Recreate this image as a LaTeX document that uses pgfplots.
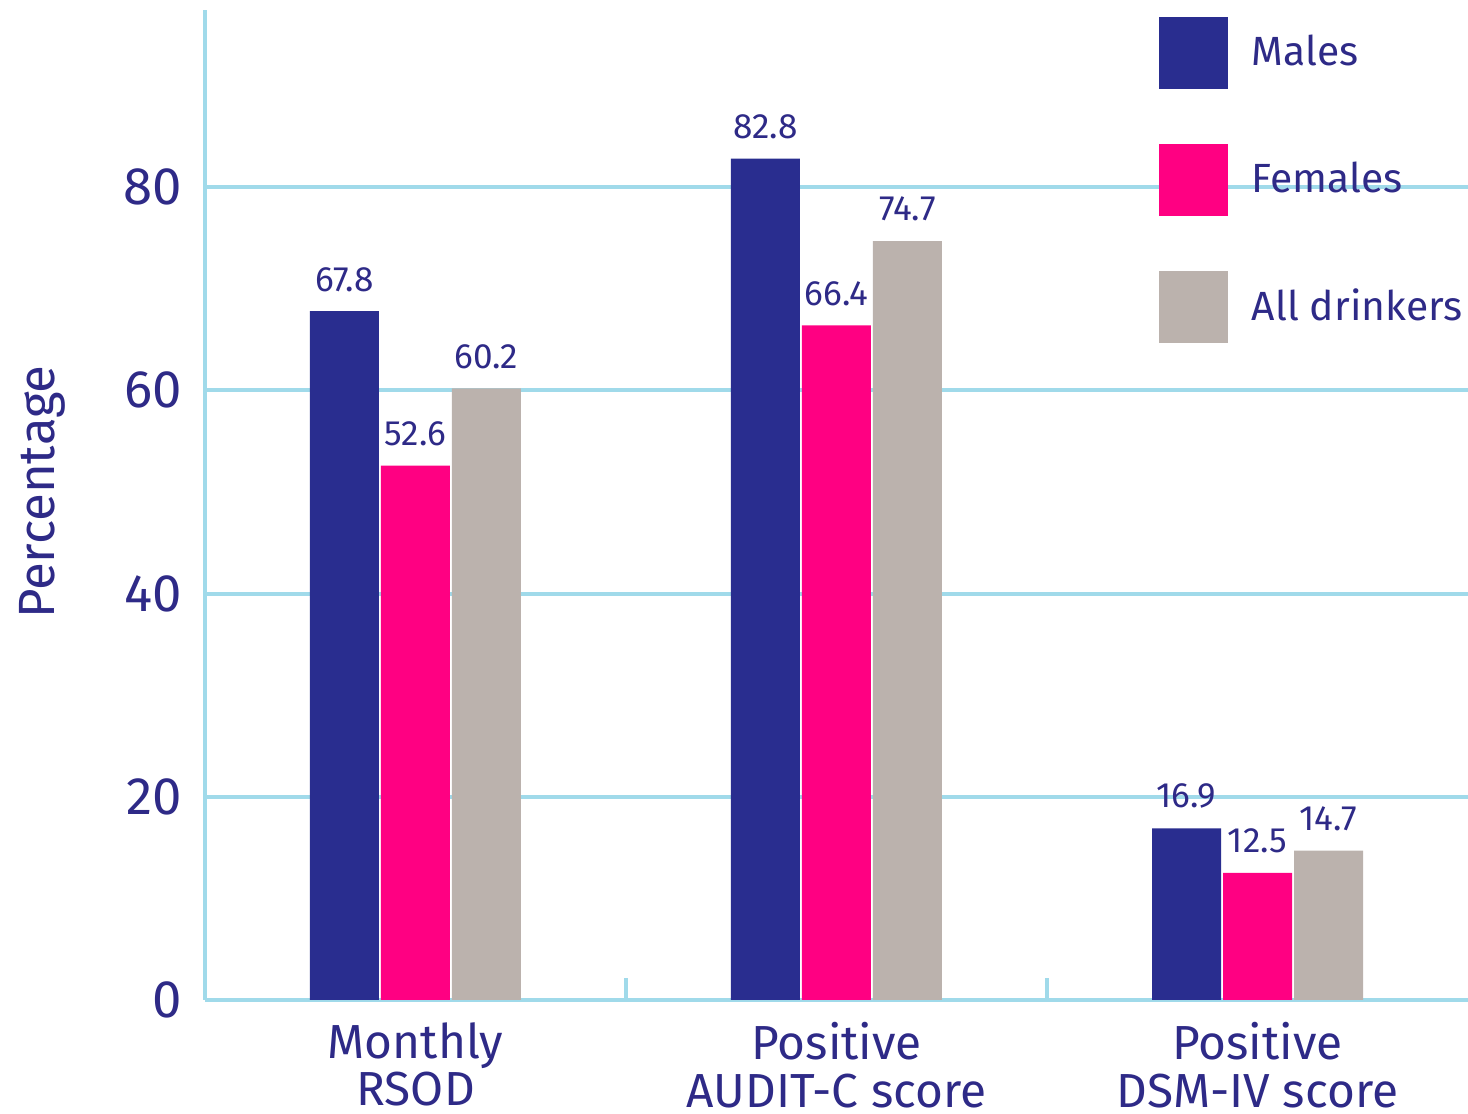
\documentclass[border=0pt]{standalone}
\usepackage{pgfplots}
\pgfplotsset{compat=1.18}
\usepackage{fontspec}
\setmainfont{Fira Sans}
\definecolor{males}{RGB}{41,45,143}
\definecolor{females}{RGB}{255,0,130}
\definecolor{alld}{RGB}{187,178,173}
\definecolor{gridc}{RGB}{160,218,234}
\definecolor{txt}{RGB}{46,42,135}
\begin{document}
\begin{tikzpicture}
\path[use as bounding box] (0,0) rectangle (146.8mm,111.4mm);
\begin{axis}[
  at={(20.5mm,11.4mm)}, anchor=south west,
  scale only axis, width=126.3mm, height=99mm,
  xmin=-0.5, xmax=2.5, ymin=0, ymax=97.44,
  axis x line*=bottom, axis y line*=left,
  axis line style={gridc, line width=0.4mm, -},
  /pgf/number format/assume math mode=true,
  ybar=0.2mm, bar width=6.9mm,
  xtick={0,1,2},
  xticklabels={{Monthly\\RSOD},{Positive\\AUDIT-C score},{Positive\\DSM-IV score}},
  xticklabel style={align=center, font=\fontsize{13.6}{13.4}\selectfont, text=txt, inner sep=0pt, yshift=-0.7mm},
  major x tick style={draw=none},
  ytick={0,20,40,60,80},
  ymajorgrids, grid style={gridc, line width=0.4mm},
  major y tick style={draw=none},
  yticklabel style={font=\fontsize{15}{16}\selectfont, text=txt, inner sep=0pt, xshift=-2.2mm},
  ylabel={Percentage},
  ylabel style={at={(axis description cs:-0.129,0.513)}, anchor=center, font=\fontsize{14.5}{16}\selectfont, text=txt},
  nodes near coords,
  nodes near coords style={font=\fontsize{10}{12}\selectfont, text=txt, inner sep=0pt, yshift=1.9mm},
  legend entries={Males,Females,All drinkers},
  legend cell align=left,
  legend style={at={(axis description cs:0.7553,0.9929)}, anchor=north west, draw=none, fill=none,
    inner sep=0pt, outer sep=0pt, row sep=5.5mm, font=\fontsize{11.6}{14}\selectfont, text=txt,
    nodes={inner sep=0pt}, /tikz/every odd column/.append style={column sep=2.4mm}},
]
\addplot[fill=males, draw=none, legend image code/.code={\fill (0mm,-3.6mm) rectangle (6.9mm,3.6mm);}]
  coordinates {(0,67.8) (1,82.8) (2,16.9)};
\addplot[fill=females, draw=none, legend image code/.code={\fill (0mm,-3.6mm) rectangle (6.9mm,3.6mm);}]
  coordinates {(0,52.6) (1,66.4) (2,12.5)};
\addplot[fill=alld, draw=none, legend image code/.code={\fill (0mm,-3.6mm) rectangle (6.9mm,3.6mm);}]
  coordinates {(0,60.2) (1,74.7) (2,14.7)};
\draw[gridc, line width=0.4mm] (axis cs:0.5,0) -- (axis cs:0.5,2.2);
\draw[gridc, line width=0.4mm] (axis cs:1.5,0) -- (axis cs:1.5,2.2);
\end{axis}
\end{tikzpicture}
\end{document}
